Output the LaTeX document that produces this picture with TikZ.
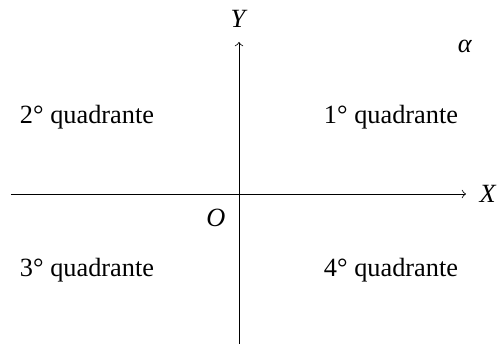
\documentclass[tikz,border=0pt]{standalone}
\usepackage{fontspec}
\setmainfont{Liberation Serif}
\begin{document}
\begin{tikzpicture}[x=0.38pt,y=-0.38pt,
  lbl/.style={inner sep=0pt,font=\normalsize},
  axis/.style={->,line width=0.3pt}]
\useasboundingbox (0,0) rectangle (498,344);
\coordinate (xl) at (11,194);
\coordinate (xr) at (466,194);
\coordinate (yb) at (239,344);
\coordinate (yt) at (239,42);
\draw[axis] (xl) -- (xr);
\draw[axis] (yb) -- (yt);
\node[lbl] (X) at (488,194) {\textit{X}};
\node[lbl] (Y) at (239,19) {\textit{Y}};
\node[lbl] (O) at (216,218) {\textit{O}};
\node[lbl] (al) at (465,46) {\textit{α}};
\node[lbl] (q1) at (391,117) {1° quadrante};
\node[lbl] (q2) at (87,117) {2° quadrante};
\node[lbl] (q3) at (87,270) {3° quadrante};
\node[lbl] (q4) at (391,270) {4° quadrante};
\end{tikzpicture}
\end{document}
